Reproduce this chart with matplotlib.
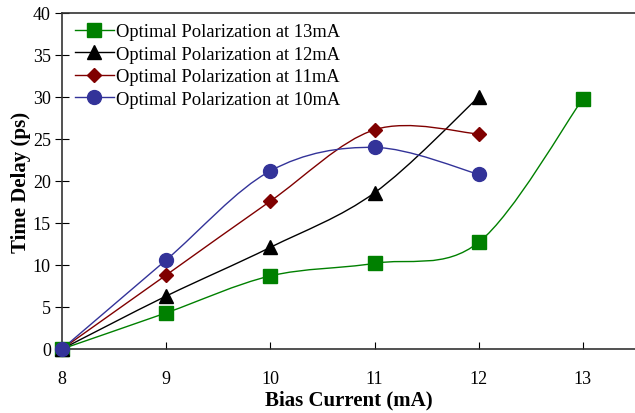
import matplotlib
matplotlib.use("Agg")
from matplotlib import pyplot as plt
from matplotlib.path import Path
from matplotlib.patches import PathPatch
from matplotlib.lines import Line2D

plt.rcParams['font.family'] = ['Liberation Serif', 'DejaVu Serif']

bias = [8, 9, 10, 11, 12, 13]

delay_13 = [0, 4.3, 8.7, 10.2, 12.7, 29.8]
delay_12 = [0, 6.3, 12.1, 18.6, 30.0]
delay_11 = [0, 8.8, 17.6, 26.1, 25.6]
delay_10 = [0, 10.6, 21.2, 24.0, 20.8]

labels = ['Optimal Polarization at 13mA', 'Optimal Polarization at 12mA',
          'Optimal Polarization at 11mA', 'Optimal Polarization at 10mA']


def smooth_path(xs, ys):
    # excel-like smoothed line: bezier through every point
    pts = list(zip(xs, ys))
    n = len(pts)
    verts = [pts[0]]
    codes = [Path.MOVETO]
    for i in range(n - 1):
        p0 = pts[i - 1] if i > 0 else pts[i]
        p1 = pts[i]
        p2 = pts[i + 1]
        p3 = pts[i + 2] if i + 2 < n else pts[i + 1]
        c1 = (p1[0] + (p2[0] - p0[0]) / 6.0, p1[1] + (p2[1] - p0[1]) / 6.0)
        c2 = (p2[0] - (p3[0] - p1[0]) / 6.0, p2[1] - (p3[1] - p1[1]) / 6.0)
        verts += [c1, c2, p2]
        codes += [Path.CURVE4] * 3
    return Path(verts, codes)


fig = plt.figure(figsize=(6.35, 4.14), dpi=100)
ax = fig.add_axes([0.0976, 0.1546, 0.9024, 0.8116])

series = [
    (delay_13, '#008000', 's', 9.5),
    (delay_12, '#000000', '^', 10),
    (delay_11, '#800000', 'D', 7.5),
    (delay_10, '#333399', 'o', 10),
]

handles = []
for (ys, col, mk, ms), lab in zip(series, labels):
    xs = bias[:len(ys)]
    ax.add_patch(PathPatch(smooth_path(xs, ys), facecolor='none',
                           edgecolor=col, lw=1.0, clip_on=False))
    ax.plot(xs, ys, linestyle='none', marker=mk, markersize=ms,
            color=col, clip_on=False, zorder=3)
    handles.append(Line2D([], [], color=col, lw=1.0, marker=mk,
                          markersize=ms))

ax.set_xlim(8, 13.5)
ax.set_ylim(0, 40)
ax.set_xticks([8, 9, 10, 11, 12, 13])
ax.set_yticks(range(0, 41, 5))
ax.spines['right'].set_visible(False)
for s in ['left', 'bottom', 'top']:
    ax.spines[s].set_color('#333333')
    ax.spines[s].set_linewidth(1.2)
ax.tick_params(axis='x', direction='in', length=5, labelsize=13, pad=15)
ax.tick_params(axis='y', direction='inout', length=10, labelsize=13, pad=3)

ax.set_xlabel('Bias Current (mA)', fontsize=15, fontweight='bold', labelpad=2)
ax.set_ylabel('Time Delay (ps)', fontsize=15, fontweight='bold', labelpad=1)

ax.legend(handles, labels, loc='upper left', frameon=False, fontsize=13.3,
          handlelength=2.1, borderaxespad=0.3, labelspacing=0.3,
          handletextpad=0.15, bbox_to_anchor=(0.0, 1.008))

fig.savefig('out.png', dpi=100)
